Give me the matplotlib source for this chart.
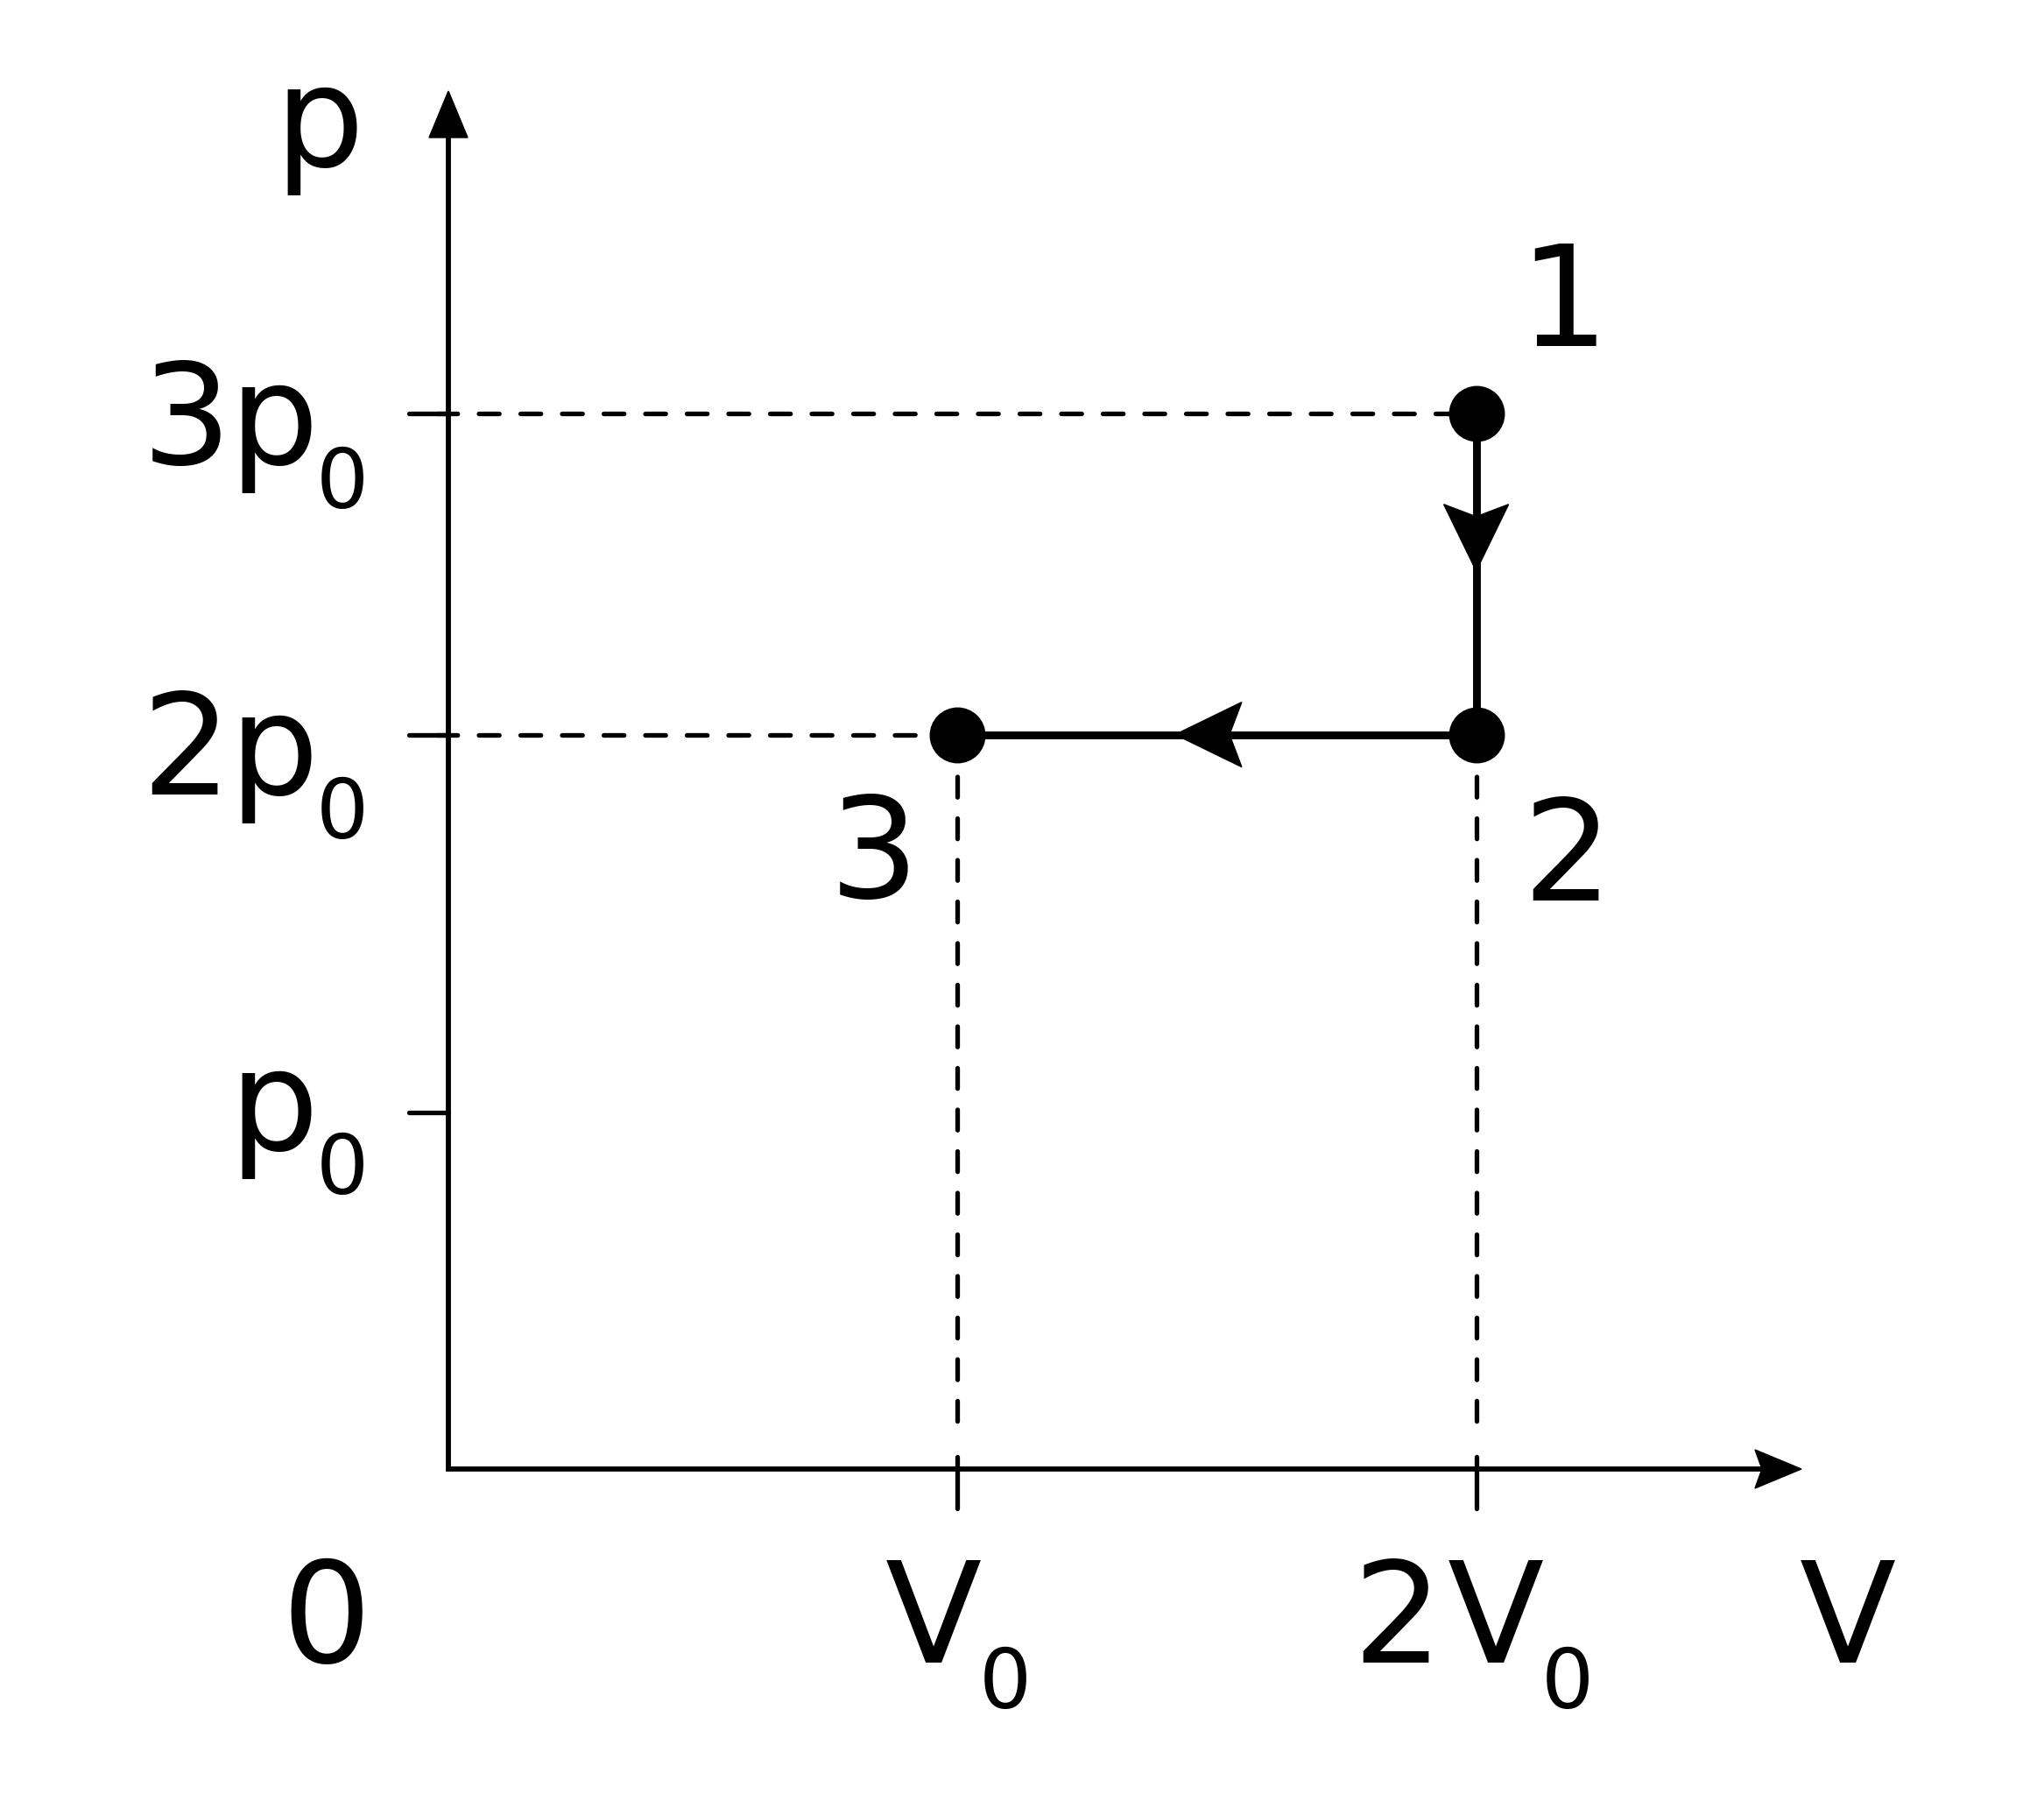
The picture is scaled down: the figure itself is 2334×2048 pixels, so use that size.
import matplotlib
matplotlib.use("Agg")
import matplotlib.pyplot as plt
from matplotlib.patches import Polygon
import numpy as np

# ---------------- data (V in units of V0, p in units of p0, as drawn) -------------
state_labels = ["1", "2", "3"]
state_V = [2.02, 2.02, 1.0]
state_p = [2.96, 2.06, 2.06]

v_tick_values = [1.0, 2.02]
v_tick_coefs = ["", "2"]
p_tick_values = [1.0, 2.06, 2.96]
p_tick_coefs = ["", "2", "3"]

# ---------------- layout ----------------------------------------------------------
W, H, DPI = 2334, 2048, 200
OX, OY = 512, 1677          # pixel position of the origin
SX, SY = 581.0, 407.0       # pixels per unit of V0 / p0

def X(px):
    return (px - OX) / SX

def Y(py):
    return (OY - py) / SY

fig = plt.figure(figsize=(W / DPI, H / DPI), dpi=DPI)
ax = fig.add_axes([0, 0, 1, 1])
ax.set_xlim(X(0), X(W))
ax.set_ylim(Y(H), Y(0))
ax.axis("off")

K = "black"
FS = 58
FS_SUB = 34
FONT = "DejaVu Sans"

def arrowhead(tip, u, L, hw, notch):
    """polygon arrow head; tip in data, u unit direction in pixel space (y up)"""
    ux, uy = u
    nx, ny = -uy, ux
    tx, ty = tip
    pts_px = [(0, 0),
              (-L * ux + hw * nx, -L * uy + hw * ny),
              (-(L - notch) * ux, -(L - notch) * uy),
              (-L * ux - hw * nx, -L * uy - hw * ny)]
    pts = [(tx + a / SX, ty + b / SY) for a, b in pts_px]
    ax.add_patch(Polygon(pts, closed=True, facecolor=K, edgecolor=K, lw=0.5, zorder=6))

# ---------------- axes -------------------------------------------------------------
ax.plot([0, 0, X(2012)], [Y(150), 0, 0], color=K, lw=2.1,
        solid_joinstyle="miter", solid_capstyle="butt", zorder=3)
arrowhead((0, Y(104)), (0, 1), 53, 22, 0)
arrowhead((X(2057), 0), (1, 0), 53, 22, 8)

# ---------------- ticks ------------------------------------------------------------
for pv in p_tick_values:
    ax.plot([X(467), 0], [pv, pv], color=K, lw=1.9, solid_capstyle="round", zorder=3)
for vv in v_tick_values:
    ax.plot([vv, vv], [Y(1663), Y(1722)], color=K, lw=1.9, solid_capstyle="round", zorder=3)

# ---------------- dashed guide lines -----------------------------------------------
dash_kw = dict(color=K, lw=1.9, dashes=(4.4, 4.6), dash_capstyle="round", zorder=2)
# horizontal: from the p axis to states 1 and 3
for i in (0, 2):
    ax.plot([X(499), state_V[i]], [state_p[i], state_p[i]], **dash_kw)
# vertical: from states 3 and 2 down to the V axis
for i in (2, 1):
    ax.plot([state_V[i], state_V[i]], [state_p[i], Y(1638)], **dash_kw)

# ---------------- process 1 -> 2 -> 3 ----------------------------------------------
ax.plot(state_V, state_p, color=K, lw=3.2, solid_capstyle="butt", zorder=4)
fracs = [0.49, 0.58]
for i, f in enumerate(fracs):
    v0, p0 = state_V[i], state_p[i]
    v1, p1 = state_V[i + 1], state_p[i + 1]
    tip = (v0 + f * (v1 - v0), p0 + f * (p1 - p0))
    d = np.array([(v1 - v0) * SX, (p1 - p0) * SY])
    d = d / np.linalg.norm(d)
    arrowhead(tip, d, 76, 37, 14)

ax.plot(state_V, state_p, "o", ms=22, color=K, mec=K, zorder=7)

# ---------------- texts ------------------------------------------------------------
def txt(px, py, s, size=FS):
    ax.text(X(px), Y(py), s, fontsize=size, family=FONT, color=K,
            ha="center", va="baseline")

# axis labels
txt(365, 190, "p")
txt(2110, 1898, "V")
txt(373, 1898, "0")

# p tick labels (baseline of main text, baseline of subscript)
p_label_base = [1313, 907, 530]
for coef, yb in zip(p_tick_coefs, p_label_base):
    if coef:
        txt(213, yb, coef)
    txt(313, yb, "p")
    txt(391, yb + 50, "0", FS_SUB)

# V tick labels
v_label_x = [1066, 1708]
for coef, xv in zip(v_tick_coefs, v_label_x):
    if coef:
        txt(xv - 112, 1898, coef)
    txt(xv, 1898, "V")
    txt(xv + 82, 1950, "0", FS_SUB)

# state labels
state_label_pos = [(1785, 395), (1789, 1028), (998, 1025)]
for lab, (px, py) in zip(state_labels, state_label_pos):
    txt(px, py, lab)

fig.savefig("out.png", dpi=DPI, facecolor="white")
